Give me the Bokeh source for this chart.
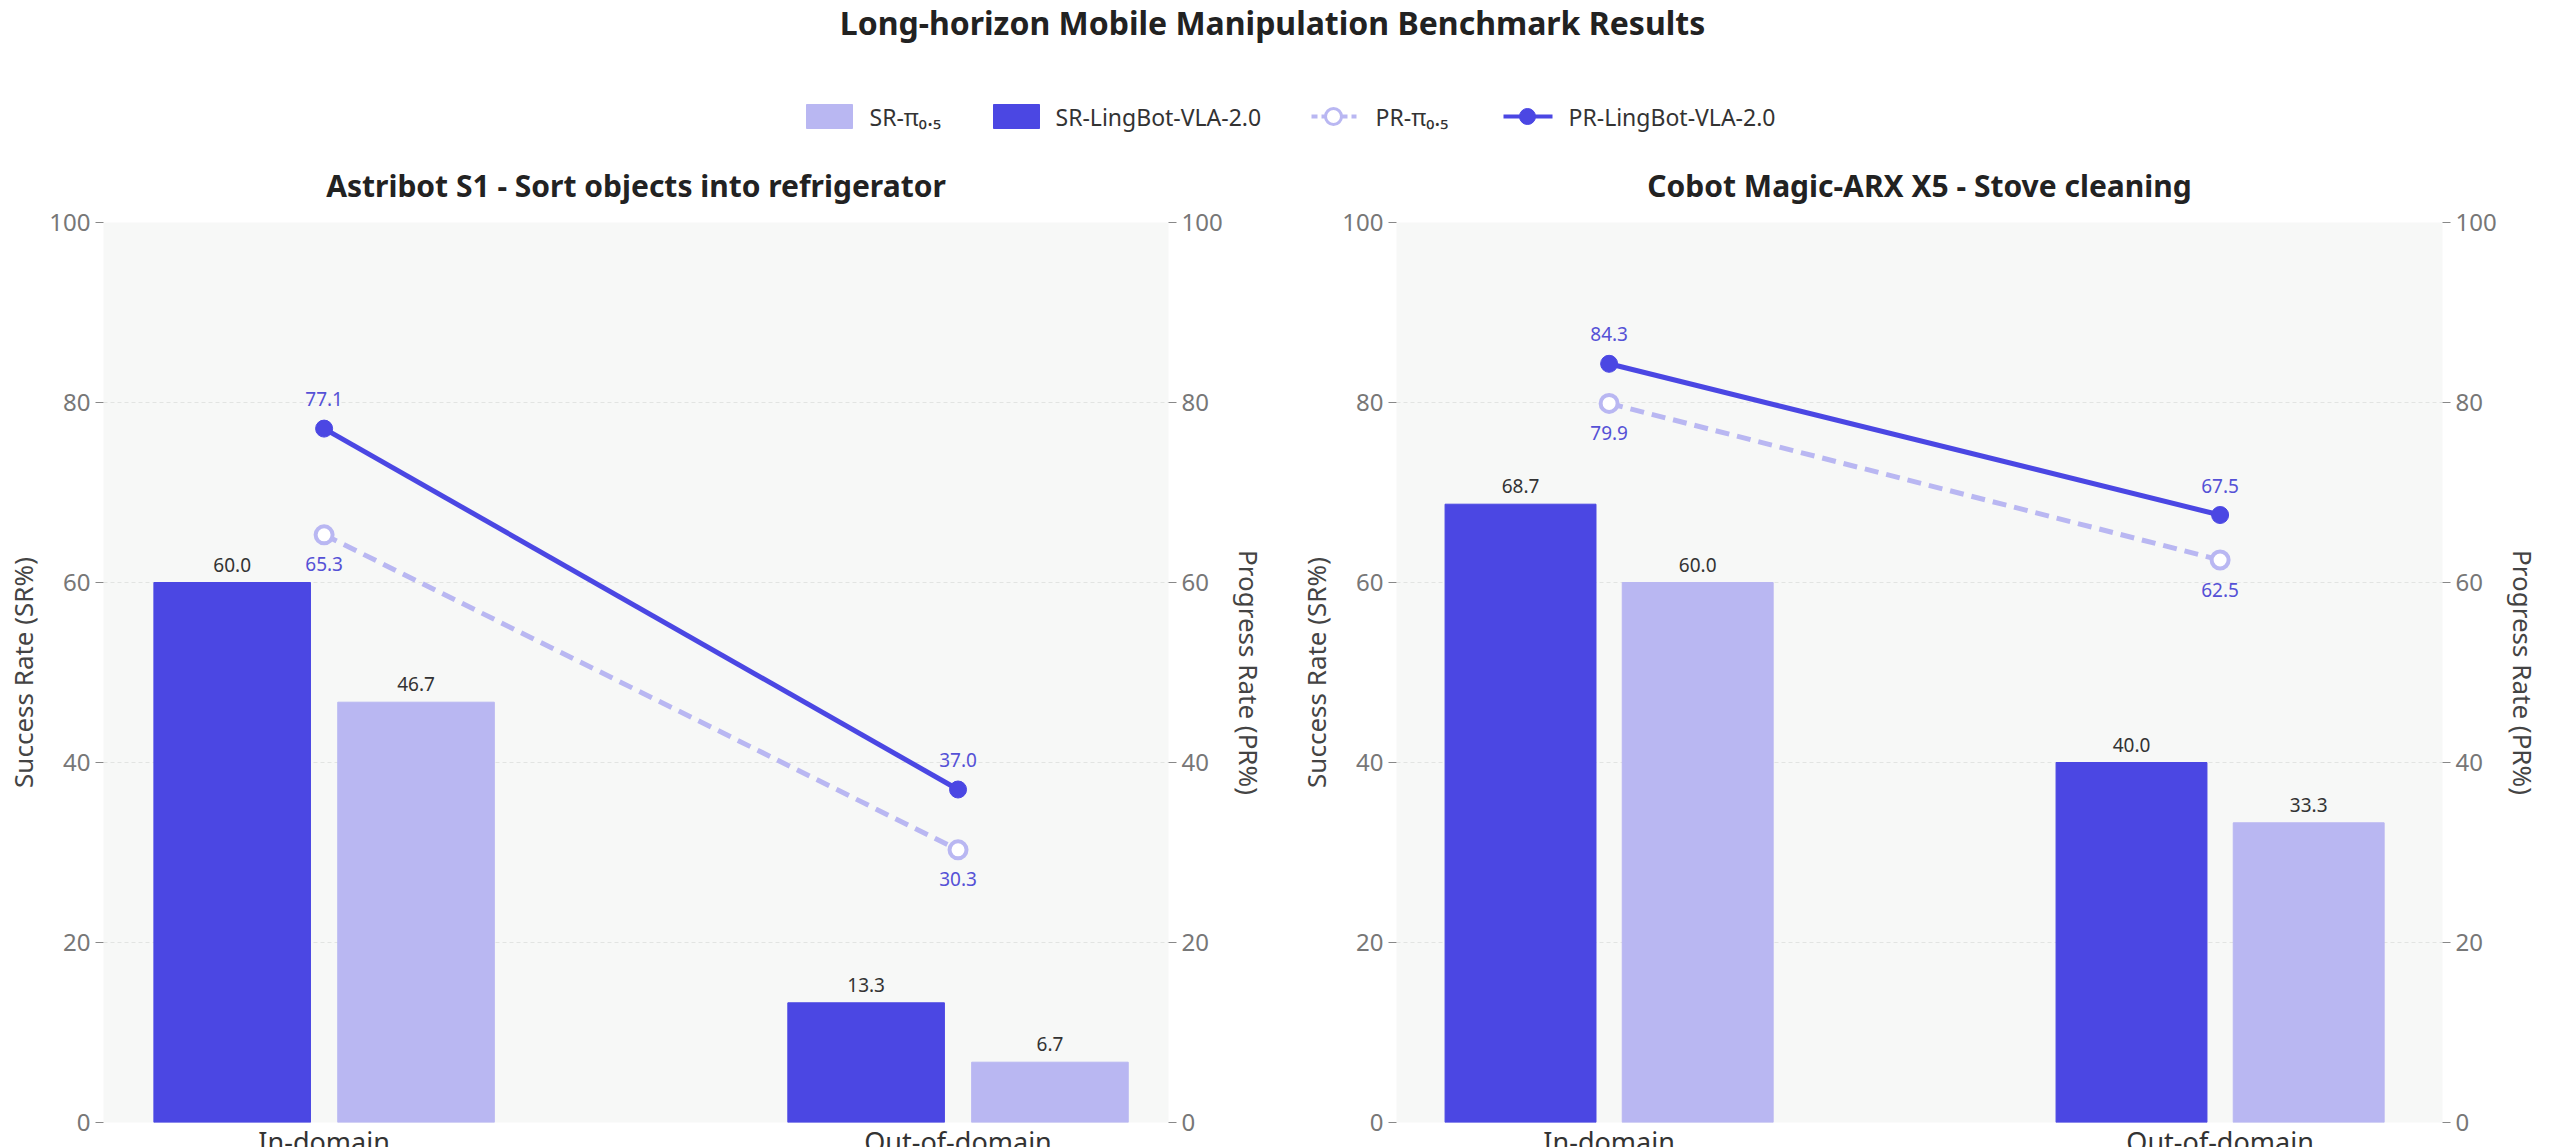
from bokeh.plotting import figure
from bokeh.models import Range1d, LinearAxis, FixedTicker
from bokeh.layouts import column, row
from bokeh.embed import file_html
from bokeh.resources import INLINE
from bokeh.core.properties import value

categories = ["In-domain", "Out-of-domain"]
titles = ["Astribot S1 - Sort objects into refrigerator", "Cobot Magic-ARX X5 - Stove cleaning"]
sr_lingbot = [[60.0, 13.3], [68.7, 40.0]]
sr_pi = [[46.7, 6.7], [60.0, 33.3]]
pr_lingbot = [[77.1, 37.0], [84.3, 67.5]]
pr_pi = [[65.3, 30.3], [79.9, 62.5]]
ticks = [0, 20, 40, 60, 80, 100]

DARK = "#4B47E3"
LIGHT = "#B9B7F2"
LBL = "#5551D6"
FONT = "Noto Sans"

H = 145
hdr = figure(width=2544, height=H, x_range=Range1d(0, 2544), y_range=Range1d(0, H),
             output_backend="svg", toolbar_location=None, min_border=0)
hdr.axis.visible = False
hdr.grid.visible = False
hdr.outline_line_color = None
hdr.text([1272], [H - 22], text=["Long-horizon Mobile Manipulation Benchmark Results"],
         text_font=value(FONT), text_font_style="bold", text_font_size="32px",
         text_align="center", text_baseline="middle", text_color="#222222")
ly = H - 116
hdr.rect([829], [ly], width=46, height=24, color=LIGHT)
hdr.rect([1016], [ly], width=46, height=24, color=DARK)
hdr.line([1311, 1356], [ly, ly], color=LIGHT, line_width=4, line_dash="6 4")
hdr.scatter([1333], [ly], size=16, fill_color="white", line_color=LIGHT, line_width=3)
hdr.line([1503, 1552], [ly, ly], color=DARK, line_width=4)
hdr.scatter([1527], [ly], size=16, color=DARK)
for x, t in [(869, "SR-π₀.₅"), (1055, "SR-LingBot-VLA-2.0"), (1375, "PR-π₀.₅"), (1568, "PR-LingBot-VLA-2.0")]:
    hdr.text([x], [ly], text=[t], text_font=value(FONT), text_font_size="23px",
             text_baseline="middle", text_color="#333333")

def panel(i, xr, fw, bl, br):
    p = figure(frame_width=fw, frame_height=900, x_range=Range1d(*xr), y_range=Range1d(0, 100),
               output_backend="svg", toolbar_location=None, title=titles[i],
               min_border_left=bl, min_border_right=br, min_border_top=70, min_border_bottom=4)
    p.title.text_font = FONT
    p.title.text_font_size = "30px"
    p.title.text_font_style = "bold"
    p.title.align = "center"
    p.title.text_color = "#222222"
    p.title.standoff = 34
    p.background_fill_color = "#F7F8F7"
    p.border_fill_color = "white"
    p.outline_line_color = None
    p.extra_y_ranges = {"pr": Range1d(0, 100)}
    ax2 = LinearAxis(y_range_name="pr", axis_label="Progress Rate (PR%)")
    p.add_layout(ax2, "right")
    for ax in p.yaxis:
        ax.ticker = FixedTicker(ticks=ticks)
        ax.axis_line_color = None
        ax.major_tick_line_color = "#888888"
        ax.minor_tick_line_color = None
        ax.major_tick_in = 0
        ax.major_tick_out = 8
        ax.major_label_text_font = FONT
        ax.major_label_text_font_size = "24px"
        ax.major_label_text_color = "#777777"
        ax.axis_label_text_font = FONT
        ax.axis_label_text_font_size = "26px"
        ax.axis_label_text_font_style = "normal"
        ax.axis_label_text_color = "#444444"
    p.yaxis[0].axis_label = "Success Rate (SR%)"
    xa = p.xaxis[0]
    xa.ticker = FixedTicker(ticks=[0, 1])
    xa.major_label_overrides = {0: categories[0], 1: categories[1]}
    xa.axis_line_color = None
    xa.major_tick_line_color = None
    xa.minor_tick_line_color = None
    xa.major_tick_out = 0
    xa.major_label_text_font = FONT
    xa.major_label_text_font_size = "27px"
    xa.major_label_text_color = "#333333"
    xa.major_label_standoff = 0
    p.xgrid.visible = False
    p.ygrid.ticker = FixedTicker(ticks=ticks)
    p.ygrid.grid_line_color = "#E2E4E2"
    p.ygrid.grid_line_dash = "4 3"
    xs = [0, 1]
    off, w = 0.145, 0.247
    p.vbar(x=[x - off for x in xs], top=sr_lingbot[i], width=w, color=DARK)
    p.vbar(x=[x + off for x in xs], top=sr_pi[i], width=w, color=LIGHT)
    for x, v in zip(xs, sr_lingbot[i]):
        p.text([x - off], [v + 1.2], text=[f"{v:.1f}"], text_font=value(FONT), text_font_size="19px",
               text_align="center", text_baseline="bottom", text_color="#333333")
    for x, v in zip(xs, sr_pi[i]):
        p.text([x + off], [v + 1.2], text=[f"{v:.1f}"], text_font=value(FONT), text_font_size="19px",
               text_align="center", text_baseline="bottom", text_color="#333333")
    p.line(xs, pr_pi[i], y_range_name="pr", color=LIGHT, line_width=5, line_dash="14 8")
    p.scatter(xs, pr_pi[i], y_range_name="pr", size=17, fill_color="white", line_color=LIGHT, line_width=4)
    p.line(xs, pr_lingbot[i], y_range_name="pr", color=DARK, line_width=5)
    p.scatter(xs, pr_lingbot[i], y_range_name="pr", size=17, color=DARK)
    for x, v in zip(xs, pr_lingbot[i]):
        p.text([x], [v + 2.5], text=[f"{v:.1f}"], y_range_name="pr", text_font=value(FONT),
               text_font_size="19px", text_align="center", text_baseline="bottom", text_color=LBL)
    for x, v in zip(xs, pr_pi[i]):
        p.text([x], [v - 2.5], text=[f"{v:.1f}"], y_range_name="pr", text_font=value(FONT),
               text_font_size="19px", text_align="center", text_baseline="top", text_color=LBL)
    return p

p1 = panel(0, (-0.348, 1.332), 1065, 103, 110)
p2 = panel(1, (-0.348, 1.364), 1046, 118, 94)
layout = column(hdr, row(p1, p2))
open("out.html", "w").write(file_html(layout, INLINE))
